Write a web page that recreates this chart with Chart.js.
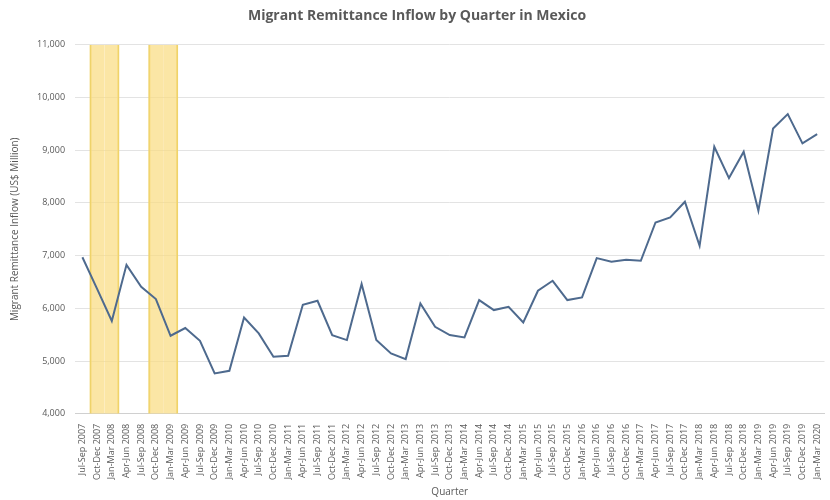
<!DOCTYPE html>
<html>
<head>
<meta charset="utf-8">
<script src="https://cdn.jsdelivr.net/npm/chart.js@4/dist/chart.umd.min.js"></script>
<style>
  html, body { margin: 0; padding: 0; background: #ffffff; }
  #wrap { width: 830px; height: 500px; }
</style>
</head>
<body>
<div id="wrap"><canvas id="chart" width="830" height="500"></canvas></div>
<script>
// Quarterly remittance inflow to Mexico, US$ million
const quarters = [
  'Jul-Sep 2007','Oct-Dec 2007','Jan-Mar 2008','Apr-Jun 2008','Jul-Sep 2008','Oct-Dec 2008',
  'Jan-Mar 2009','Apr-Jun 2009','Jul-Sep 2009','Oct-Dec 2009','Jan-Mar 2010','Apr-Jun 2010',
  'Jul-Sep 2010','Oct-Dec 2010','Jan-Mar 2011','Apr-Jun 2011','Jul-Sep 2011','Oct-Dec 2011',
  'Jan-Mar 2012','Apr-Jun 2012','Jul-Sep 2012','Oct-Dec 2012','Jan-Mar 2013','Apr-Jun 2013',
  'Jul-Sep 2013','Oct-Dec 2013','Jan-Mar 2014','Apr-Jun 2014','Jul-Sep 2014','Oct-Dec 2014',
  'Jan-Mar 2015','Apr-Jun 2015','Jul-Sep 2015','Oct-Dec 2015','Jan-Mar 2016','Apr-Jun 2016',
  'Jul-Sep 2016','Oct-Dec 2016','Jan-Mar 2017','Apr-Jun 2017','Jul-Sep 2017','Oct-Dec 2017',
  'Jan-Mar 2018','Apr-Jun 2018','Jul-Sep 2018','Oct-Dec 2018','Jan-Mar 2019','Apr-Jun 2019',
  'Jul-Sep 2019','Oct-Dec 2019','Jan-Mar 2020'
];

const remittances = [
  6970, 6370, 5760, 6825, 6410, 6176,
  5480, 5626, 5385, 4765, 4816, 5827,
  5524, 5081, 5100, 6068, 6144, 5493,
  5398, 6461, 5398, 5145, 5037, 6093,
  5650, 5493, 5448, 6157, 5967, 6030,
  5733, 6333, 6523, 6157, 6207, 6954,
  6884, 6922, 6903, 7629, 7724, 8022,
  7187, 9066, 8471, 8971, 7851, 9413,
  9686, 9130, 9306
];

// Quarters highlighted as crisis periods
const crisisQuarters = ['Oct-Dec 2007', 'Jan-Mar 2008', 'Oct-Dec 2008', 'Jan-Mar 2009'];

const yTicks = [4000, 5000, 6000, 7000, 8000, 9000, 10000, 11000];

const yMin = yTicks[0];
const yMax = yTicks[yTicks.length - 1];
const inCrisis = quarters.map(q => crisisQuarters.includes(q));
const crisisBands = inCrisis.map(f => f ? [yMin, yMax] : null);

const labelFont = "'Open Sans', 'Liberation Sans', sans-serif";
const textGrey = '#595959';

new Chart(document.getElementById('chart'), {
  type: 'line',
  data: {
    labels: quarters,
    datasets: [
      {
        type: 'line',
        label: 'Remittance inflow',
        data: remittances,
        borderColor: '#4e6a8e',
        borderWidth: 2,
        pointRadius: 0,
        tension: 0,
        fill: false,
        order: 1
      },
      {
        type: 'bar',
        label: 'Crisis',
        data: crisisBands,
        backgroundColor: 'rgba(250, 220, 130, 0.72)',
        borderColor: '#efd36a',
        borderSkipped: false,
        borderWidth: ctx => {
          const i = ctx.dataIndex;
          if (!inCrisis[i]) return 0;
          return {
            left: inCrisis[i - 1] ? 0 : 1.5,
            right: inCrisis[i + 1] ? 0 : 1.5,
            top: 0,
            bottom: 0
          };
        },
        barPercentage: 1,
        categoryPercentage: 1,
        order: 2
      }
    ]
  },
  options: {
    responsive: false,
    animation: false,
    layout: { padding: { left: 9, right: 5, top: 0, bottom: 2 } },
    plugins: {
      legend: { display: false },
      tooltip: { enabled: false },
      title: {
        display: true,
        text: 'Migrant Remittance Inflow by Quarter in Mexico',
        color: textGrey,
        font: { family: labelFont, size: 14, weight: 'bold' },
        padding: { top: 8, bottom: 20 }
      }
    },
    scales: {
      x: {
        offset: true,
        grid: { display: false },
        border: { display: true, color: '#d0d0d0', width: 1 },
        ticks: {
          autoSkip: false,
          maxRotation: 90,
          minRotation: 90,
          color: textGrey,
          padding: 2,
          font: { family: labelFont, size: 9 }
        },
        title: {
          display: true,
          text: 'Quarter',
          color: textGrey,
          padding: { top: 4, bottom: 0 },
          font: { family: labelFont, size: 10 }
        }
      },
      y: {
        min: yMin,
        max: yMax,
        afterBuildTicks: axis => { axis.ticks = yTicks.map(v => ({ value: v })); },
        grid: { color: '#e3e3e3', drawTicks: false, lineWidth: 1 },
        border: { display: false },
        ticks: {
          color: textGrey,
          padding: 10,
          font: { family: labelFont, size: 9 },
          callback: v => v.toLocaleString('en-US')
        },
        title: {
          display: true,
          text: 'Migrant Remittance Inflow (US$ Million)',
          color: textGrey,
          padding: { top: 0, bottom: 6 },
          font: { family: labelFont, size: 10 }
        }
      }
    }
  }
});
</script>
</body>
</html>
